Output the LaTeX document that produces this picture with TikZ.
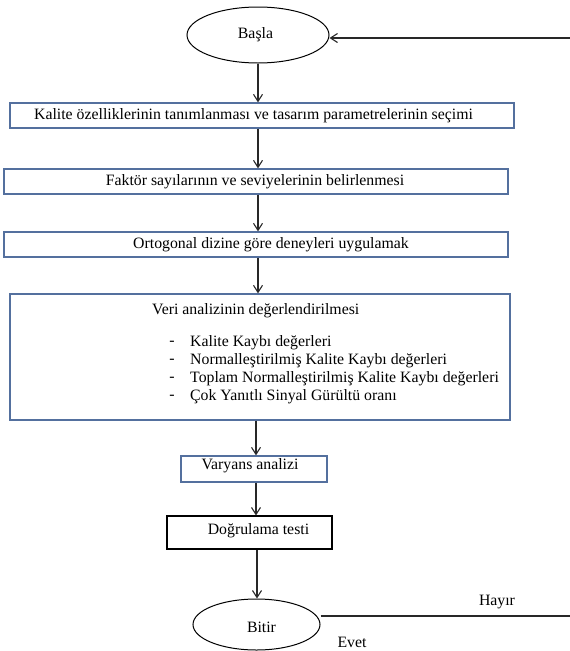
\documentclass[tikz,border=0pt]{standalone}
\usepackage{fontspec}
\setmainfont{Liberation Serif}
\usetikzlibrary{arrows.meta,shapes.geometric}
\definecolor{boxblue}{RGB}{84,112,158}
\definecolor{linegray}{RGB}{40,40,40}
\tikzset{
  bluebox/.style={draw=boxblue,line width=1.3pt,rectangle,inner sep=0pt},
  blackbox/.style={draw=black,line width=1.1pt,rectangle,inner sep=0pt},
  oval/.style={draw=black,line width=1pt,ellipse,inner sep=0pt},
  txt/.style={font=\fontsize{15.8}{17}\selectfont,inner sep=0pt},
  arr/.style={draw=linegray,line width=1.1pt,-{Straight Barb[length=7pt,width=9pt,line width=1.1pt]}},
  plain/.style={draw=linegray,line width=1.1pt}
}
\begin{document}
\begin{tikzpicture}[x=1pt,y=-1pt]
\useasboundingbox (0,0) rectangle (570,651);
% shapes
\node[oval,minimum width=142pt,minimum height=56pt] (basla) at (258,35) {};
\node[bluebox,minimum width=504pt,minimum height=25pt] (b1) at (262,115.5) {};
\node[bluebox,minimum width=504pt,minimum height=25pt] (b2) at (256,181.5) {};
\node[bluebox,minimum width=504pt,minimum height=25pt] (b3) at (256,244.5) {};
\node[bluebox,minimum width=500pt,minimum height=126pt] (b4) at (260,357) {};
\node[bluebox,minimum width=146pt,minimum height=26pt] (b5) at (254,469) {};
\node[blackbox,minimum width=165pt,minimum height=33pt] (b6) at (249.5,532.5) {};
\node[oval,minimum width=127pt,minimum height=51pt] (bitir) at (256.5,624.5) {};
% texts
\node[txt] (tbasla) at (255.5,35) {Başla};
\node[txt] (t1) at (253.5,116) {Kalite özelliklerinin tanımlanması ve tasarım parametrelerinin seçimi};
\node[txt] (t2) at (255,182) {Faktör sayılarının ve seviyelerinin belirlenmesi};
\node[txt] (t3) at (271,245) {Ortogonal dizine göre deneyleri uygulamak};
\node[txt,anchor=west] (t4) at (152,311) {Veri analizinin değerlendirilmesi};
\node[txt] (d1) at (172,343) {-};
\node[txt] (d2) at (172,361) {-};
\node[txt] (d3) at (172,379) {-};
\node[txt] (d4) at (172,397) {-};
\node[txt,anchor=west] (i1) at (190,343) {Kalite Kaybı değerleri};
\node[txt,anchor=west] (i2) at (190,361) {Normalleştirilmiş Kalite Kaybı değerleri};
\node[txt,anchor=west] (i3) at (190,379) {Toplam Normalleştirilmiş Kalite Kaybı değerleri};
\node[txt,anchor=west] (i4) at (190,397) {Çok Yanıtlı Sinyal Gürültü oranı};
\node[txt] (t5) at (250,466) {Varyans analizi};
\node[txt] (t6) at (258.5,531) {Doğrulama testi};
\node[txt] (tbitir) at (261.5,627) {Bitir};
\node[txt] (hayir) at (497,602) {Hayır};
\node[txt] (evet) at (352,642) {Evet};
% connectors
\coordinate (rtop) at (570,38);
\coordinate (rbot) at (570,616);
\draw[arr] (rtop) -- (rtop -| basla.east);
\draw[arr] (basla.south) -- (basla.south |- b1.north);
\draw[arr] (b1.south -| basla.south) -- (b2.north -| basla.south);
\draw[arr] (b2.south -| basla.south) -- (b3.north -| basla.south);
\draw[arr] (b3.south -| basla.south) -- (b4.north -| basla.south);
\draw[arr] (b4.south -| b5.north) ++(2,0) coordinate (c45) -- (c45 |- b5.north);
\draw[arr] (b5.south) ++(2,0) coordinate (c56) -- (c56 |- b6.north);
\draw[arr] (b6.south) ++(7.5,0) coordinate (c67) -- (c67 |- bitir.north);
\draw[plain] (rbot -| bitir.east) -- (rbot);
\end{tikzpicture}
\end{document}
